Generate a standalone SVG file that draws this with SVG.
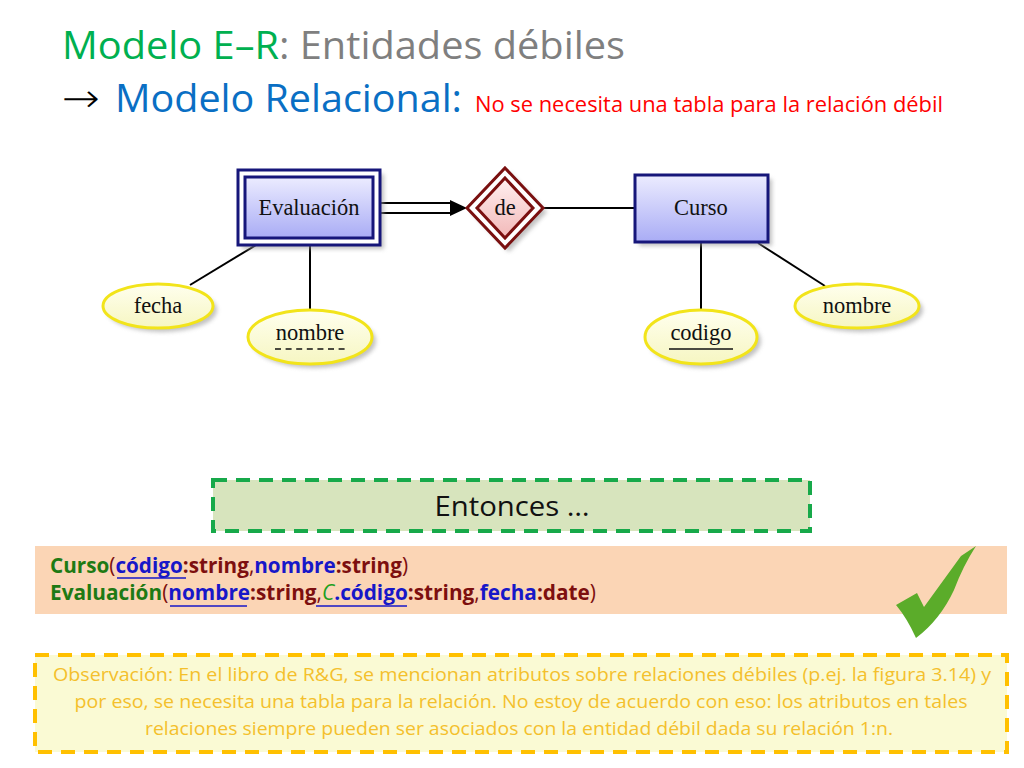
<svg xmlns="http://www.w3.org/2000/svg" width="1024" height="768" viewBox="0 0 1024 768">
<defs>
<linearGradient id="gEnt" x1="0" y1="0" x2="0" y2="1"><stop offset="0" stop-color="#ececff"/><stop offset="1" stop-color="#a9acf5"/></linearGradient>
<linearGradient id="gRel" x1="0" y1="0" x2="0" y2="1"><stop offset="0" stop-color="#fff0f0"/><stop offset="1" stop-color="#f2b8b8"/></linearGradient>
<linearGradient id="gAtt" x1="0" y1="0" x2="0" y2="1"><stop offset="0" stop-color="#ffffee"/><stop offset="1" stop-color="#f6f6c2"/></linearGradient>
<filter id="blur" x="-20%" y="-20%" width="140%" height="140%"><feGaussianBlur stdDeviation="2"/></filter>
</defs>
<style>
.shadow{fill:#999;opacity:.6;filter:url(#blur)}
.ent{fill:url(#gEnt);stroke:#16167a;stroke-width:3}
.entw{fill:#fff;stroke:#16167a;stroke-width:3}
.rel{fill:url(#gRel);stroke:#7a1010;stroke-width:3}
.att{fill:url(#gAtt);stroke:#f2e41a;stroke-width:3}
.er{font-family:"Liberation Serif","DejaVu Serif",serif;font-size:22.5px;fill:#111;text-anchor:middle}
.ln{stroke:#000;stroke-width:2;fill:none}
.cal{font-family:"Open Sans","Noto Sans",sans-serif}
.b{font-weight:bold}
.gr{fill:#1e7a14}.rd{fill:#7d0f0f}.bl{fill:#1717c8}.gn{fill:#1ea01e}
</style>
<rect width="1024" height="768" fill="#fff"/>

<g id="title" class="cal">
<text x="62" y="59" font-size="38" textLength="563" lengthAdjust="spacingAndGlyphs"><tspan fill="#00b050">Modelo E–R</tspan><tspan fill="#7f7f7f">: Entidades débiles</tspan></text>
<text x="62" y="112" font-family="DejaVu Sans ExtraLight,DejaVu Sans,sans-serif" font-weight="200" font-size="40" fill="#000" textLength="38" lengthAdjust="spacingAndGlyphs">→</text>
<text x="115" y="112" font-size="38" fill="#0a6fc4" textLength="347" lengthAdjust="spacingAndGlyphs">Modelo Relacional:</text>
<text x="475" y="112" font-size="21" fill="#ff0000" textLength="468" lengthAdjust="spacingAndGlyphs">No se necesita una tabla para la relación débil</text>
</g>

<g id="connectors">
<line class="ln" x1="380" y1="203" x2="452" y2="203"/>
<line class="ln" x1="380" y1="213" x2="452" y2="213"/>
<path d="M450,200 L467,208 L450,216 Z" fill="#000"/>
<line class="ln" x1="543" y1="208" x2="635" y2="208"/>
<line class="ln" x1="256" y1="245" x2="190" y2="285"/>
<line class="ln" x1="310" y1="245" x2="310" y2="309"/>
<line class="ln" x1="701" y1="242" x2="701" y2="309"/>
<line class="ln" x1="758" y1="243" x2="825" y2="286"/>
</g>

<g id="evaluacion">
<rect class="shadow" x="242" y="174" width="142" height="75"/>
<rect class="entw" x="238" y="170" width="142" height="75"/>
<rect class="ent" x="245" y="177" width="128" height="61"/>
<text class="er" x="309" y="215">Evaluación</text>
</g>

<g id="de">
<path class="shadow" d="M509,172 L547,212 L509,252 L471,212 Z"/>
<path d="M505,168 L543,208 L505,248 L467,208 Z" fill="#fff" stroke="#7a1010" stroke-width="3"/>
<path class="rel" d="M505,178 L533,208 L505,238 L477,208 Z"/>
<text class="er" x="505" y="215">de</text>
</g>

<g id="curso">
<rect class="shadow" x="639" y="179" width="133" height="67"/>
<rect class="ent" x="635" y="175" width="133" height="67"/>
<text class="er" x="701" y="215">Curso</text>
</g>

<g id="fecha">
<ellipse class="shadow" cx="162" cy="310" rx="55" ry="22"/>
<ellipse class="att" cx="158" cy="306" rx="55" ry="22"/>
<text class="er" x="158" y="313">fecha</text>
</g>

<g id="nombre-eval">
<ellipse class="shadow" cx="314" cy="341" rx="62" ry="27"/>
<ellipse class="att" cx="310" cy="337" rx="62" ry="27"/>
<text class="er" x="310" y="340">nombre</text>
<line x1="275" y1="349" x2="346" y2="349" stroke="#111" stroke-width="1.3" stroke-dasharray="6,4.6"/>
</g>

<g id="codigo">
<ellipse class="shadow" cx="705" cy="341" rx="56" ry="27"/>
<ellipse class="att" cx="701" cy="337" rx="56" ry="27"/>
<text class="er" x="701" y="340">codigo</text>
<line x1="669" y1="349" x2="733" y2="349" stroke="#111" stroke-width="1.3"/>
</g>

<g id="nombre-curso">
<ellipse class="shadow" cx="861" cy="310" rx="62" ry="22"/>
<ellipse class="att" cx="857" cy="306" rx="62" ry="22"/>
<text class="er" x="857" y="313">nombre</text>
</g>

<g id="entonces">
<rect x="213" y="480" width="597" height="51" fill="#d7e4bd" stroke="#17a94a" stroke-width="4" stroke-dasharray="14,9"/>
<text class="cal" x="512" y="516" font-size="28" fill="#111" text-anchor="middle" textLength="155" lengthAdjust="spacingAndGlyphs">Entonces …</text>
</g>

<g id="relacional">
<rect x="35" y="546" width="972" height="68" fill="#fbd5b5"/>
<text class="cal b" x="50" y="573" font-size="21" textLength="358" lengthAdjust="spacingAndGlyphs"><tspan class="gr">Curso</tspan><tspan class="rd" font-weight="normal">(</tspan><tspan class="bl">código</tspan><tspan class="rd">:string</tspan><tspan class="rd" font-weight="normal">,</tspan><tspan class="bl">nombre</tspan><tspan class="rd">:string</tspan><tspan class="rd" font-weight="normal">)</tspan></text>
<line x1="117" y1="578" x2="186" y2="578" stroke="#1717c8" stroke-width="1.5"/>
<text class="cal b" x="50" y="600" font-size="21" textLength="546" lengthAdjust="spacingAndGlyphs"><tspan class="gr">Evaluación</tspan><tspan class="rd" font-weight="normal">(</tspan><tspan class="bl">nombre</tspan><tspan class="rd">:string</tspan><tspan class="rd" font-weight="normal">,</tspan><tspan class="gn" font-weight="normal" font-style="italic">C</tspan><tspan class="bl">.código</tspan><tspan class="rd">:string</tspan><tspan class="rd" font-weight="normal">,</tspan><tspan class="bl">fecha</tspan><tspan class="rd">:date</tspan><tspan class="rd" font-weight="normal">)</tspan></text>
<line x1="170" y1="606" x2="247" y2="606" stroke="#1717c8" stroke-width="1.5"/>
<line x1="316" y1="606" x2="407" y2="606" stroke="#1717c8" stroke-width="1.5"/>
<path d="M896,605 L917,593 L924,607 L961,556 L976,546 Q963,566 954,590 Q940,620 916,638 Q907,618 896,605 Z" fill="#5bac2a"/>
</g>

<g id="observacion">
<rect x="35" y="655" width="972" height="97" fill="#fafad4" stroke="#ffc000" stroke-width="4" stroke-dasharray="14,9"/>
<g class="cal" font-size="18" fill="#f4c02c" text-anchor="middle">
<text x="522" y="681" textLength="938" lengthAdjust="spacingAndGlyphs">Observación: En el libro de R&amp;G, se mencionan atributos sobre relaciones débiles (p.ej. la figura 3.14) y</text>
<text x="521" y="708" textLength="893" lengthAdjust="spacingAndGlyphs">por eso, se necesita una tabla para la relación. No estoy de acuerdo con eso: los atributos en tales</text>
<text x="519" y="735" textLength="748" lengthAdjust="spacingAndGlyphs">relaciones siempre pueden ser asociados con la entidad débil dada su relación 1:n.</text>
</g>
</g>
</svg>
